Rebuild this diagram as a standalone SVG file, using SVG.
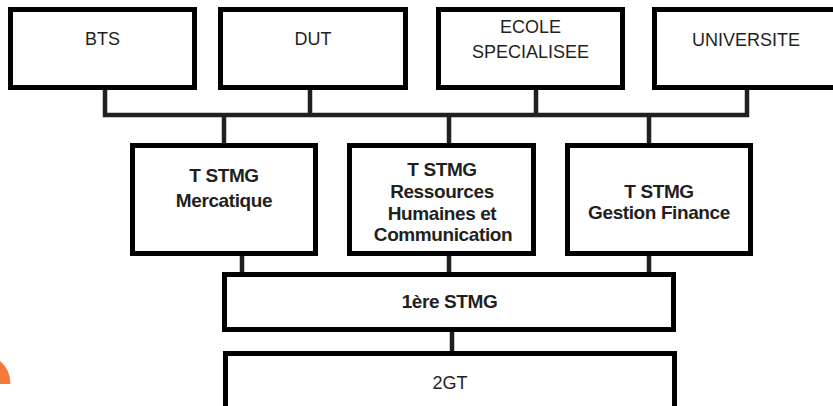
<svg xmlns="http://www.w3.org/2000/svg" width="833" height="406" viewBox="0 0 833 406">
<style>
.box{fill:#fff;stroke:#000;stroke-width:5}
.t{font-family:"Liberation Sans",Arial,sans-serif;font-size:18px;fill:#231f20;text-anchor:middle}
.b{font-weight:700;font-size:19px;letter-spacing:-0.4px}
.c{stroke:#231f20;stroke-width:4.5;fill:none;stroke-linecap:butt}
</style>
<rect width="833" height="406" fill="#fff"/>
<path d="M0,361 A30,30 0 0 1 10.5,384 L0,384 Z" fill="#f37a3a"/>
<g id="connectors" class="c">
<path d="M105,90 V115 H747 V90"/>
<path d="M310,90 V115"/>
<path d="M536,90 V115"/>
<path d="M224,115 V143"/>
<path d="M449,115 V143"/>
<path d="M649,115 V143"/>
<path d="M242,256 V272"/>
<path d="M449,256 V272"/>
<path d="M649,256 V272"/>
<path d="M452,332 V351"/>
</g>
<g id="bts"><rect class="box" x="10.5" y="9.5" width="184" height="78"/><text class="t" x="102.5" y="45">BTS</text></g>
<g id="dut"><rect class="box" x="220.5" y="9.5" width="185" height="78"/><text class="t" x="313" y="45">DUT</text></g>
<g id="ecole"><rect class="box" x="438.5" y="9.5" width="184" height="78"/><text class="t" x="530.5" y="33">ECOLE</text><text class="t" x="530.5" y="58">SPECIALISEE</text></g>
<g id="universite"><rect class="box" x="654.5" y="9.5" width="184" height="78"/><text class="t" x="746" y="46">UNIVERSITE</text></g>
<g id="mercatique"><rect class="box" x="132.5" y="145.5" width="183" height="108"/><text class="t b" x="224" y="182">T STMG</text><text class="t b" x="224" y="207">Mercatique</text></g>
<g id="rhc"><rect class="box" x="349.5" y="145.5" width="184" height="108"/><text class="t b" x="442" y="176">T STMG</text><text class="t b" x="442" y="198">Ressources</text><text class="t b" x="442" y="219.5">Humaines et</text><text class="t b" x="443" y="241">Communication</text></g>
<g id="gestion"><rect class="box" x="567.5" y="145.5" width="183" height="108"/><text class="t b" x="659" y="198">T STMG</text><text class="t b" x="659" y="219">Gestion Finance</text></g>
<g id="premiere"><rect class="box" x="224.5" y="274.5" width="449" height="55"/><text class="t b" x="449.5" y="308">1ère STMG</text></g>
<g id="seconde"><rect class="box" x="225.5" y="353.5" width="449" height="62"/><text class="t" x="450" y="389">2GT</text></g>
</svg>
